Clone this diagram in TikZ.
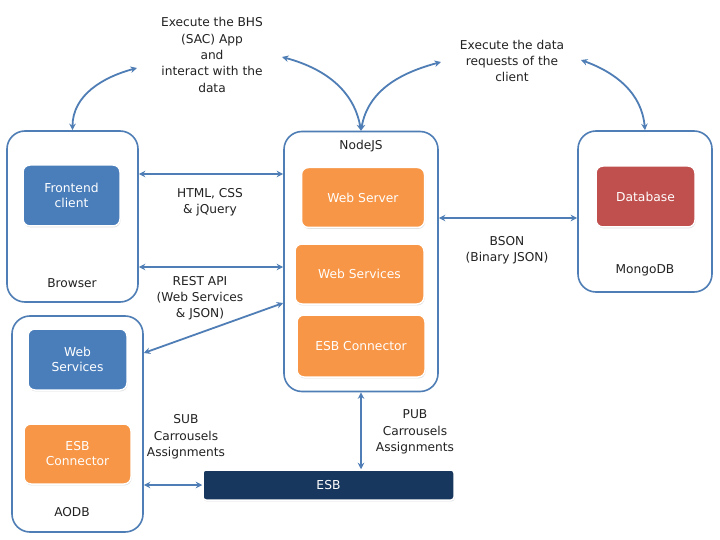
\documentclass[tikz,border=0pt]{standalone}
\usepackage{fontspec}
\setmainfont{DejaVu Sans}
\usetikzlibrary{arrows.meta,shadows}
\definecolor{lineblue}{HTML}{4F7DB5}
\definecolor{boxblue}{HTML}{4A7EBB}
\definecolor{boxorange}{HTML}{F79646}
\definecolor{boxred}{HTML}{C0504D}
\definecolor{navy}{HTML}{17375E}
\definecolor{txt}{HTML}{222222}
\begin{document}
\begin{tikzpicture}[x=1pt,y=-1pt,
  container/.style={draw=lineblue,line width=1.6pt,rounded corners=18pt,inner sep=0pt,fill=white},
  inner/.style={draw=white,line width=1.5pt,rounded corners=7pt,inner sep=0pt,text=white,align=center,
    font=\fontsize{12.3}{15}\selectfont,drop shadow={opacity=0.25,shadow xshift=0.6pt,shadow yshift=-1.4pt}},
  lbl/.style={text=txt,align=center,font=\fontsize{12.2}{16.3}\selectfont,inner sep=0pt},
  conn/.style={draw=lineblue,line width=1.8pt,{Stealth[length=6.5pt,width=6.5pt]}-{Stealth[length=6.5pt,width=6.5pt]}}
]
\useasboundingbox[fill=white] (0,0) rectangle (720,540);
% containers
\node[container,minimum width=131pt,minimum height=171pt] (Browser) at (72.5,216.5) {};
\node[container,minimum width=154pt,minimum height=260pt] (NodeJS) at (361,261.5) {};
\node[container,minimum width=134pt,minimum height=161pt] (MongoDB) at (645,211.5) {};
\node[container,minimum width=131pt,minimum height=216pt] (AODB) at (77.5,424) {};
% inner boxes
\node[inner,fill=boxblue,minimum width=97pt,minimum height=61pt] (Frontend) at (71.5,195.5) {Frontend\\client};
\node[inner,fill=boxorange,minimum width=123pt,minimum height=60pt] (WebServer) at (363,197.5) {Web Server};
\node[inner,fill=boxorange,minimum width=129pt,minimum height=60pt] (WebServicesN) at (359.5,274) {Web Services};
\node[inner,fill=boxorange,minimum width=128pt,minimum height=62pt] (ESBConnN) at (361,346) {ESB Connector};
\node[inner,fill=boxred,minimum width=99pt,minimum height=61pt] (Database) at (645.5,196.5) {Database};
\node[inner,fill=boxblue,minimum width=99pt,minimum height=61pt] (WebServicesA) at (77.5,359.5) {Web\\Services};
\node[inner,fill=boxorange,minimum width=107pt,minimum height=60pt] (ESBConnA) at (77.5,454) {ESB\\Connector};
\node[inner,fill=navy,rounded corners=3pt,minimum width=251pt,minimum height=30pt] (ESB) at (328.5,485) {ESB};
% container labels
\node[lbl] (lBrowser) at (72,283) {Browser};
\node[lbl] (lNodeJS) at (361,146) {NodeJS};
\node[lbl] (lMongo) at (645,270) {MongoDB};
\node[lbl] (lAODB) at (72,512) {AODB};
% edge labels
\node[lbl] (tTop1) at (212,55) {Execute the BHS\\(SAC) App\\and\\interact with the\\data};
\node[lbl] (tTop2) at (512,61) {Execute the data\\requests of the\\client};
\node[lbl] (tHTML) at (210,202) {HTML, CSS\\\& jQuery};
\node[lbl] (tREST) at (200,298) {REST API\\(Web Services\\\& JSON)};
\node[lbl] (tBSON) at (507,250) {BSON\\(Binary JSON)};
\node[lbl] (tSUB) at (186,437) {SUB\\Carrousels\\Assignments};
\node[lbl] (tPUB) at (415,432) {PUB\\Carrousels\\Assignments};
% curve end points
\coordinate (c1) at (137,68);
\coordinate (c2) at (282,57);
\coordinate (c3) at (441,62);
\coordinate (c4) at (581,60);
% connectors
\draw[conn] (Browser.east |- 0,174) -- (NodeJS.west |- 0,174);
\draw[conn] (Browser.east |- 0,267) -- (NodeJS.west |- 0,267);
\draw[conn] (NodeJS.west |- 0,303) -- (AODB.east |- 0,353);
\draw[conn] (NodeJS.east |- 0,218) -- (MongoDB.west |- 0,218);
\draw[conn] (ESB.west -| AODB.east) -- (ESB.west);
\draw[conn] (NodeJS.south) -- (NodeJS.south |- ESB.north);
\draw[conn] (Browser.north) to[out=90,in=195] (c1);
\draw[conn] (NodeJS.north) to[out=100,in=-15] (c2);
\draw[conn] (NodeJS.north) to[out=80,in=195] (c3);
\draw[conn] (MongoDB.north) to[out=95,in=-20] (c4);
\end{tikzpicture}
\end{document}
